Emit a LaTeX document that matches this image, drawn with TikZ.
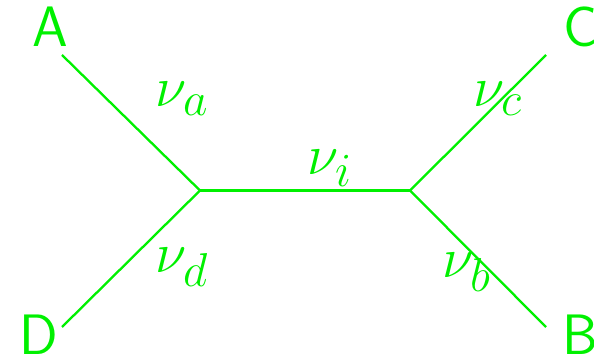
\documentclass[tikz,border=0pt]{standalone}
\definecolor{lg}{RGB}{0,240,0}
\begin{document}
\begin{tikzpicture}[x=0.5pt,y=-0.5pt,
  edge/.style={draw=lg,line width=1.15pt},
  leaf/.style={inner sep=0pt,anchor=base west,text=lg,font=\Huge\sffamily,scale=1.1455},
  rate/.style={inner sep=0pt,anchor=base west,text=lg,font=\Huge,scale=1.1455}]
\useasboundingbox (0,0) rectangle (594,362);
\coordinate (L) at (200,190.5);
\coordinate (R) at (410,190.5);
\coordinate (ea) at (62,55);
\coordinate (ed) at (62,327);
\coordinate (ec) at (546,55);
\coordinate (eb) at (546,327);
\draw[edge] (ea) -- (L);
\draw[edge] (ed) -- (L);
\draw[edge] (L) -- (R);
\draw[edge] (ec) -- (R);
\draw[edge] (eb) -- (R);
\node[leaf] (A) at (32,47) {A};
\node[leaf] (C) at (563,47) {C};
\node[leaf] (D) at (19,355) {D};
\node[leaf] (B) at (562,355) {B};
\node[rate] (na) at (155,107) {$\nu_a$};
\node[rate] (nc) at (473,107) {$\nu_c$};
\node[rate] (nd) at (155,273) {$\nu_d$};
\node[rate] (nb) at (442,278) {$\nu_b$};
\node[rate] (ni) at (307,175) {$\nu_i$};
\end{tikzpicture}
\end{document}
